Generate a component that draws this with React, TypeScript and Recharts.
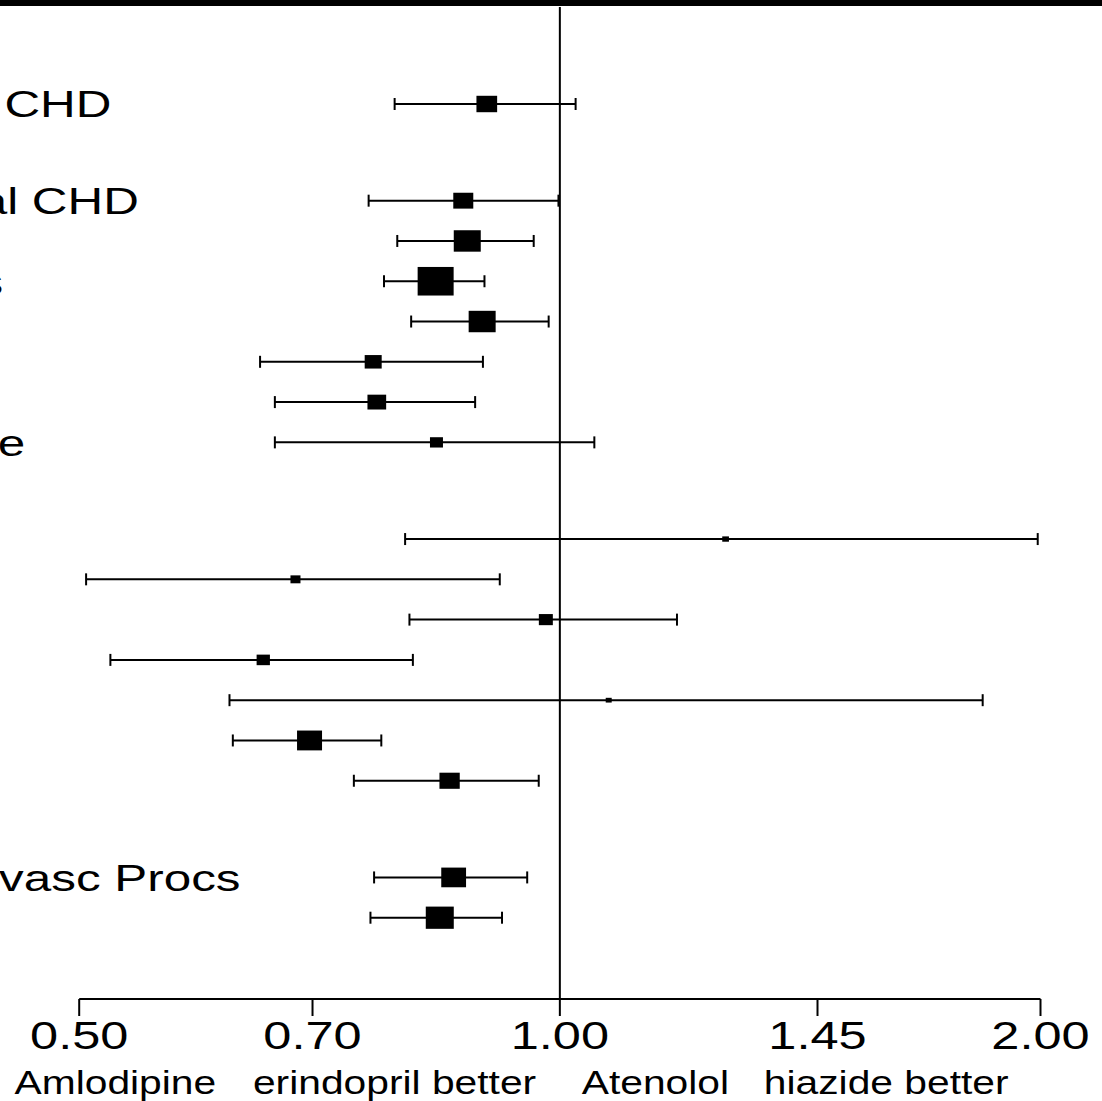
import React from 'react';
import { ScatterChart, Scatter, XAxis, YAxis, ErrorBar, ReferenceLine } from 'recharts';

// ---------- data ----------
const LABELS = [
  'Non-Fatal MI (Inc Silent) + Fatal CHD',
  'Non-Fatal MI (Excl Silent) + Fatal CHD',
  'Total Coronary Endpoint',
  'Total CV Events and Procedures',
  'All-Cause Mortality',
  'Cardiovascular Mortality',
  'Fatal and Non-Fatal Stroke',
  'Fatal and Non-Fatal Heart Failure',
  'Silent MI',
  'Unstable Angina',
  'Chronic Stable Angina',
  'Peripheral Arterial Disease',
  'Life-Threatening Arrhythmias',
  'New-Onset Diabetes Mellitus',
  'New-Onset Renal Impairment',
  'Primary endpoint + Coronary Revasc Procs',
  'CV Death + MI + Stroke',
];
// section each endpoint belongs to (primary, secondary, tertiary, post hoc)
const GROUPS = [0, 1, 1, 1, 1, 1, 1, 1, 2, 2, 2, 2, 2, 2, 2, 3, 3];
const HAZARD = [0.90, 0.87, 0.875, 0.836, 0.894, 0.764, 0.768, 0.837, 1.27, 0.683, 0.98, 0.652, 1.073, 0.697, 0.853, 0.858, 0.841];
const LOWER = [0.788, 0.759, 0.791, 0.776, 0.807, 0.649, 0.663, 0.663, 0.80, 0.505, 0.805, 0.523, 0.621, 0.624, 0.743, 0.765, 0.761];
const UPPER = [1.023, 0.998, 0.963, 0.897, 0.984, 0.895, 0.885, 1.051, 1.992, 0.917, 1.184, 0.809, 1.84, 0.773, 0.970, 0.954, 0.920];
const WEIGHTS = [980, 915, 1667, 2964, 1667, 661, 800, 386, 103, 229, 448, 405, 82, 1429, 942, 1407, 1793];
const X_TICKS = [0.5, 0.7, 1.0, 1.45, 2.0];
const FOOTER = ['Amlodipine', 'erindopril better', 'Atenolol', 'hiazide better'];

// ---------- layout / style ----------
const W = 1102;
const H = 1101;
const FONT = '"Liberation Sans", Arial, Helvetica, sans-serif';
const GROUP_GAP = 1.4;
const MAX_BOX = 36;
const BOX_ASPECT = 1.26;
const LABEL_X = -710.4;
const FOOTER_X = [14.5, 252.9, 581.7, 763.8];

const maxWeight = Math.max(...WEIGHTS);
const rows = LABELS.map((label, i) => ({
  label,
  hr: HAZARD[i],
  pos: i + GROUPS[i] * GROUP_GAP,
  err: [HAZARD[i] - LOWER[i], UPPER[i] - HAZARD[i]],
  weight: WEIGHTS[i],
}));

const Box = (props: any) => {
  const { cx, cy, payload } = props;
  if (cx == null || cy == null) return null;
  const w = MAX_BOX * Math.sqrt(payload.weight / maxWeight);
  const h = w / BOX_ASPECT;
  return (
    <g>
      <rect x={cx - w / 2} y={cy - h / 2} width={w} height={h} fill="#000" />
      <text
        transform={`translate(${LABEL_X},${cy + 13.3}) scale(1.335,1)`}
        fontSize={37}
        fontFamily={FONT}
        fill="#000"
        textAnchor="start"
      >
        {payload.label}
      </text>
    </g>
  );
};

const XTick = (props: any) => {
  const { x, y, payload } = props;
  return (
    <text
      transform={`translate(${x},${y + 32}) scale(1.33,1)`}
      fontSize={38}
      fontFamily={FONT}
      fill="#000"
      textAnchor="middle"
    >
      {Number(payload.value).toFixed(2)}
    </text>
  );
};

export default function App() {
  return (
    <div style={{ position: 'absolute', left: 0, top: 0, width: W, height: H, background: '#fff', overflow: 'hidden' }}>
      <ScatterChart width={W} height={H} margin={{ top: 7, right: 61.5, bottom: 42, left: 79.2 }}>
        <XAxis
          type="number"
          dataKey="hr"
          scale="log"
          domain={[0.5, 2]}
          ticks={X_TICKS}
          height={60}
          axisLine={{ stroke: '#000', strokeWidth: 2 }}
          tickLine={{ stroke: '#000', strokeWidth: 2 }}
          tickSize={17}
          tickMargin={1}
          tick={<XTick />}
          interval={0}
        />
        <YAxis
          type="number"
          dataKey="pos"
          reversed
          domain={[-2.408, 22.218]}
          hide
        />
        <ReferenceLine x={1} stroke="#000" strokeWidth={2} />
        <Scatter data={rows} shape={<Box />} isAnimationActive={false}>
          <ErrorBar dataKey="err" direction="x" width={6} stroke="#000" strokeWidth={2} isAnimationActive={false} />
        </Scatter>
      </ScatterChart>
      <svg
        width={W}
        height={H}
        style={{ position: 'absolute', left: 0, top: 0, pointerEvents: 'none' }}
      >
        <rect x={0} y={0} width={W} height={6} fill="#000" />
        {FOOTER.map((t, i) => (
          <text
            key={t}
            transform={`translate(${FOOTER_X[i]},1093.5) scale(1.236,1)`}
            fontSize={33}
            fontFamily={FONT}
            fill="#000"
          >
            {t}
          </text>
        ))}
      </svg>
    </div>
  );
}
